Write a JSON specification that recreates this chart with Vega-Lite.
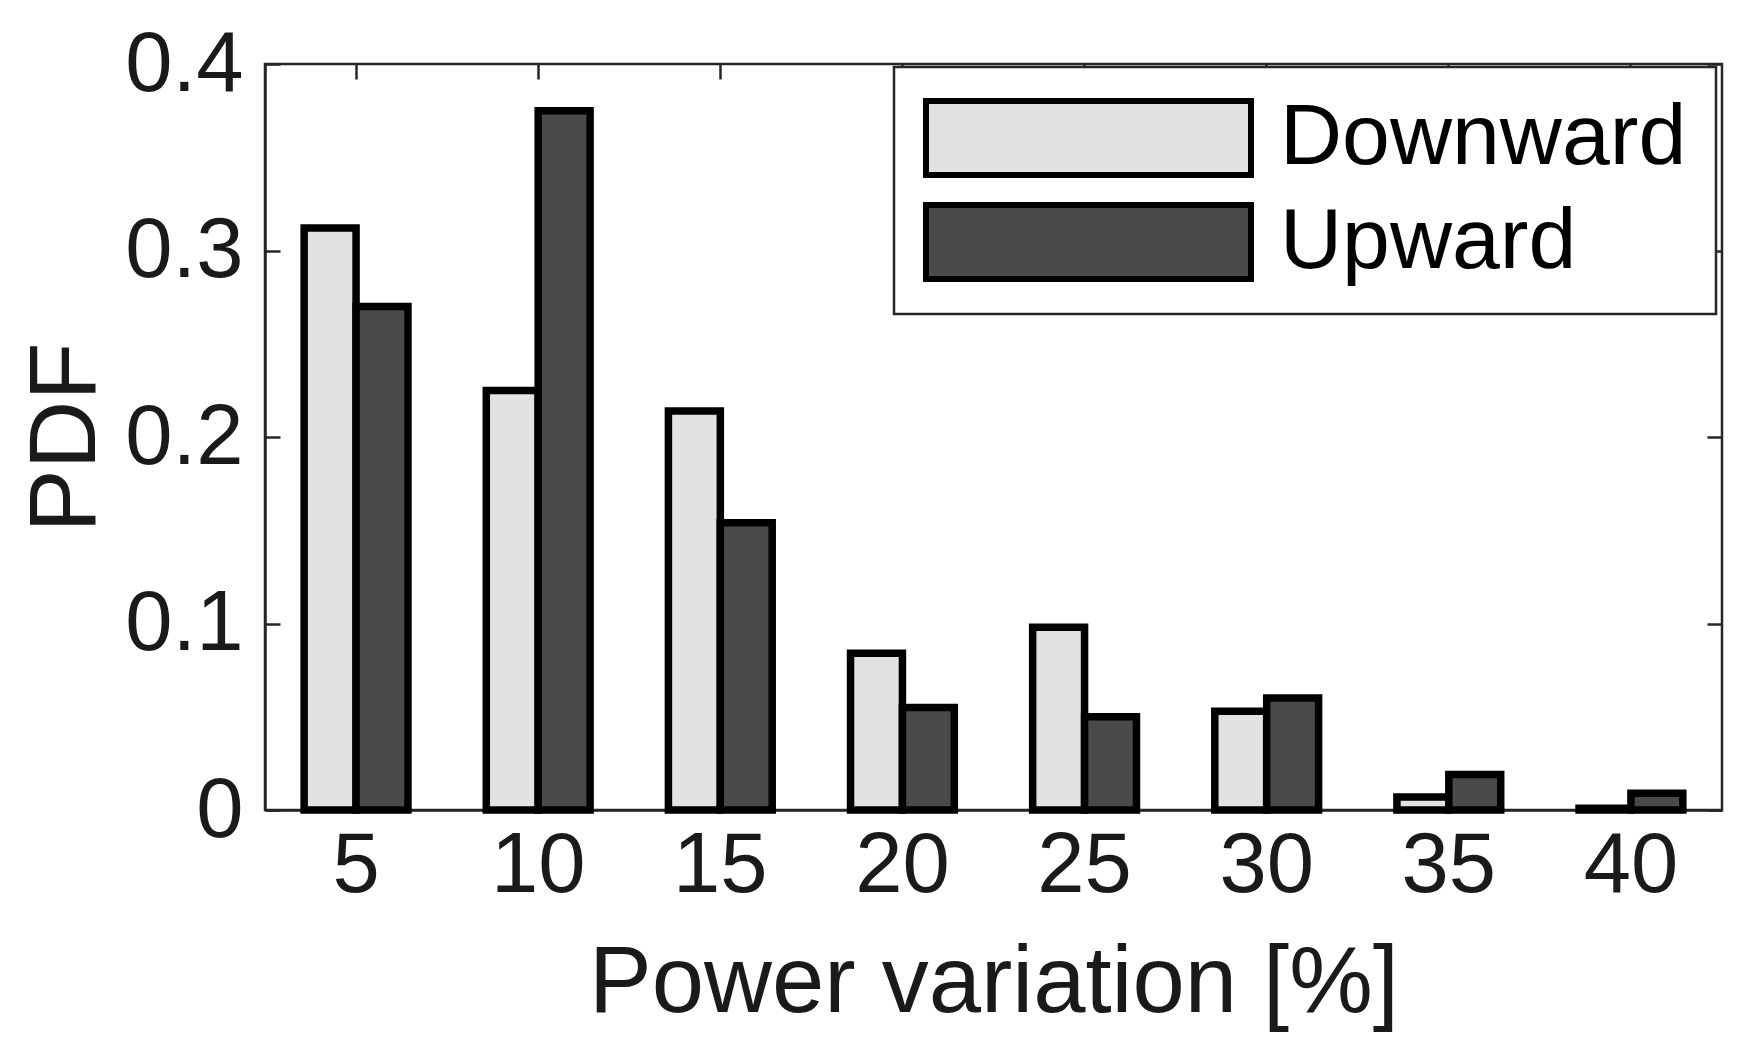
{
  "$schema": "https://vega.github.io/schema/vega-lite/v6.json",
  "width": 1457,
  "height": 746,
  "autosize": "none",
  "padding": {"left": 265, "top": 64, "right": 37, "bottom": 242},
  "background": "white",
  "config": {
    "font": "Liberation Sans",
    "view": {"stroke": "#262626", "strokeWidth": 2.5},
    "axis": {"grid": false, "labelColor": "#1a1a1a", "titleColor": "#1a1a1a", "domainColor": "#262626", "tickColor": "#262626", "domainWidth": 2.5, "tickWidth": 2.5}
  },
  "data": {
    "values": [
      {"variation": 5, "direction": "Downward", "pdf": 0.312},
      {"variation": 5, "direction": "Upward", "pdf": 0.27},
      {"variation": 10, "direction": "Downward", "pdf": 0.225},
      {"variation": 10, "direction": "Upward", "pdf": 0.375},
      {"variation": 15, "direction": "Downward", "pdf": 0.214},
      {"variation": 15, "direction": "Upward", "pdf": 0.154},
      {"variation": 20, "direction": "Downward", "pdf": 0.084},
      {"variation": 20, "direction": "Upward", "pdf": 0.055},
      {"variation": 25, "direction": "Downward", "pdf": 0.098},
      {"variation": 25, "direction": "Upward", "pdf": 0.05},
      {"variation": 30, "direction": "Downward", "pdf": 0.053},
      {"variation": 30, "direction": "Upward", "pdf": 0.06},
      {"variation": 35, "direction": "Downward", "pdf": 0.007},
      {"variation": 35, "direction": "Upward", "pdf": 0.019},
      {"variation": 40, "direction": "Downward", "pdf": 0.001},
      {"variation": 40, "direction": "Upward", "pdf": 0.009}
    ]
  },
  "layer": [
    {
      "mark": {"type": "bar", "stroke": "black", "strokeWidth": 7.5, "strokeJoin": "miter"},
      "encoding": {
        "x": {
          "field": "variation", "type": "ordinal",
          "scale": {"paddingInner": 0.43, "paddingOuter": 0.215},
          "axis": {"orient": "bottom", "title": "Power variation [%]", "labelAngle": 0, "labelFontSize": 85, "titleFontSize": 94, "titleFontWeight": "normal", "tickSize": -15, "labelPadding": 29, "titlePadding": 29}
        },
        "xOffset": {"field": "direction", "type": "nominal", "sort": ["Downward", "Upward"], "scale": {"paddingInner": 0, "paddingOuter": 0}},
        "y": {
          "field": "pdf", "type": "quantitative",
          "scale": {"domain": [0, 0.4], "nice": false, "zero": true},
          "axis": {"orient": "left", "title": "PDF", "values": [0, 0.1, 0.2, 0.3, 0.4], "format": ".1~f", "labelFontSize": 85, "titleFontSize": 95, "titleFontWeight": "normal", "tickSize": -15, "labelPadding": 37, "titlePadding": 10, "labelFlush": false}
        },
        "color": {
          "field": "direction", "type": "nominal",
          "scale": {"domain": ["Downward", "Upward"], "range": ["#e2e2e2", "#4a4a4a"]},
          "legend": {
            "orient": "none", "legendX": 629, "legendY": 3, "title": null,
            "strokeColor": "#262626", "fillColor": "white", "padding": 29,
            "symbolType": "M-1,-0.228H1V0.228H-1Z", "symbolSize": 105625,
            "symbolStrokeColor": "black", "symbolStrokeWidth": 6, "symbolOpacity": 1,
            "labelFontSize": 86, "labelColor": "#000000", "labelOffset": 26, "labelLimit": 0,
            "clipHeight": 84, "rowPadding": 18,
            "encode": {"legend": {"update": {"strokeWidth": {"value": 2.5}}}}
          }
        }
      }
    },
    {
      "mark": {"type": "bar", "opacity": 0},
      "encoding": {
        "x": {"field": "variation", "type": "ordinal", "axis": {"orient": "top", "title": null, "labels": false, "domain": false, "tickSize": -15}},
        "y": {"field": "pdf", "type": "quantitative", "axis": {"orient": "right", "title": null, "labels": false, "domain": false, "tickSize": -15, "values": [0, 0.1, 0.2, 0.3, 0.4]}}
      }
    }
  ],
  "resolve": {"axis": {"x": "independent", "y": "independent"}}
}
